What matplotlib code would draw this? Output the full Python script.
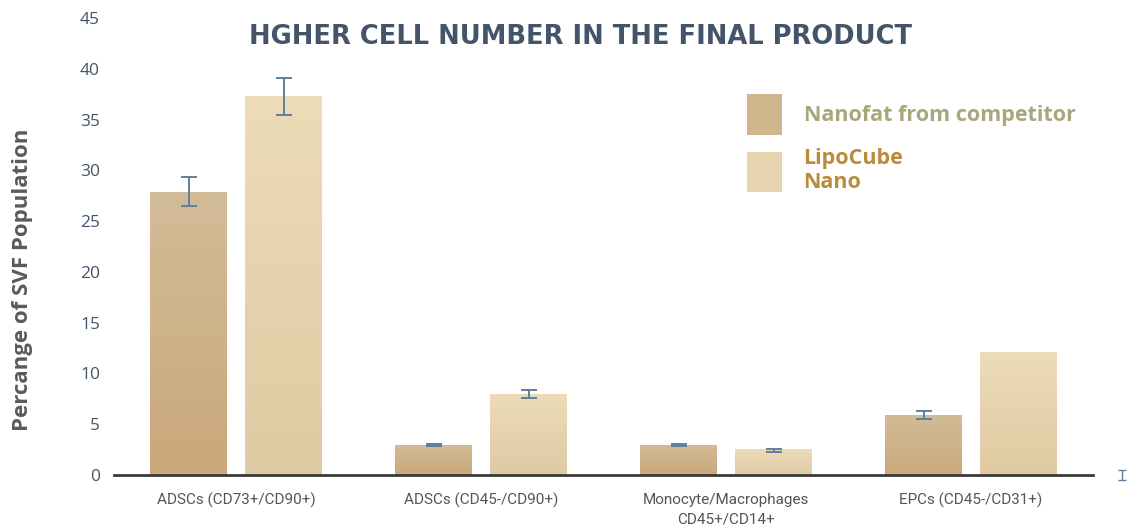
import matplotlib
matplotlib.use('Agg')
import matplotlib.pyplot as plt
from matplotlib.colors import LinearSegmentedColormap
import numpy as np

categorias = ['ADSCs (CD73+/CD90+)', 'ADSCs (CD45-/CD90+)',
              'Monocyte/Macrophages\nCD45+/CD14+', 'EPCs (CD45-/CD31+)']
nanofat = [27.9, 3.0, 3.0, 5.95]
nanofat_err = [1.4, 0.1, 0.1, 0.4]
lipocube = [37.3, 7.97, 2.55, 12.1]
lipocube_err = [1.85, 0.43, 0.12]
lipocube_err_centro = [37.25, 7.97, 2.4]
# barra de error suelta a la derecha del eje
error_suelto = 0.48

color_nanofat = '#cfb68c'
color_lipo = '#e6d4ae'
color_error = '#5f7f9e'

cmap_nanofat = LinearSegmentedColormap.from_list('nf', ['#caa87a', '#d2bc98'])
cmap_lipo = LinearSegmentedColormap.from_list('lc', ['#dfcaa3', '#ecdcb7'])


def degradado(ax, barras, cmap):
    grad = np.linspace(0, 1, 256).reshape(-1, 1)
    for b in barras:
        x0, y0 = b.get_x(), b.get_y()
        im = ax.imshow(grad, cmap=cmap, origin='lower', aspect='auto',
                       extent=(x0, x0 + b.get_width(), y0, y0 + b.get_height()),
                       zorder=2.1)
        im.set_clip_path(b)


fig = plt.figure(figsize=(11.31, 5.29), dpi=100)
ax = fig.add_axes([0.1008, 0.102, 0.866, 0.864])

x = np.arange(len(categorias))
ancho = 0.314
desp = 0.194

b1 = ax.bar(x - desp, nanofat, width=ancho, color=color_nanofat,
            label='Nanofat from competitor', zorder=2)
b2 = ax.bar(x + desp, lipocube, width=ancho, color=color_lipo,
            label='LipoCube\nNano', zorder=2)
degradado(ax, b1, cmap_nanofat)
degradado(ax, b2, cmap_lipo)

ax.errorbar(x - desp, nanofat, yerr=nanofat_err, fmt='none', ecolor=color_error,
            elinewidth=1.4, capsize=6, capthick=1.4, zorder=3)
ax.errorbar(x[:3] + desp, lipocube_err_centro, yerr=lipocube_err, fmt='none',
            ecolor=color_error, elinewidth=1.4, capsize=6, capthick=1.4, zorder=3)
eb = ax.errorbar([3.616], [0], yerr=[error_suelto], fmt='none', ecolor=color_error,
                 elinewidth=1.0, capsize=3, capthick=1.0, zorder=3)
for art in eb.lines[1] + eb.lines[2]:
    art.set_clip_on(False)

ax.set_xlim(-0.5, 3.5)
ax.set_ylim(0, 45)
ax.set_yticks(np.arange(0, 46, 5))
ax.set_xticks(x)
ax.set_xticklabels(categorias, fontsize=11, color='#555555',
                   family=['Liberation Sans Narrow', 'Roboto'], linespacing=1.45)
for s in ['top', 'right', 'left']:
    ax.spines[s].set_visible(False)
ax.spines['bottom'].set_color('#3a3a3a')
ax.spines['bottom'].set_linewidth(2)
ax.tick_params(axis='y', length=0, pad=10, labelsize=12.5, labelcolor='#44546a')
ax.tick_params(axis='x', length=0, pad=13)
for t in ax.get_yticklabels():
    t.set_family('Open Sans')

ax.set_ylabel('Percange of SVF Population', fontsize=16, fontweight='bold',
              color='#5a5a5a', family='Open Sans')
ax.yaxis.set_label_coords(-0.083, 0.427)

fig.text(0.513, 0.93, 'HGHER CELL NUMBER IN THE FINAL PRODUCT', ha='center', va='center',
         fontsize=18.5, fontweight='bold', color='#44546a', family='DejaVu Sans')

leg = ax.legend(loc='upper left', bbox_to_anchor=(0.626, 0.875), frameon=False,
                prop={'family': 'Open Sans', 'weight': 'bold', 'size': 15.5},
                handlelength=1.65, handleheight=2.5, handletextpad=1.0,
                labelspacing=0.6)
leg.get_texts()[0].set_color('#a9a67c')
leg.get_texts()[1].set_color('#b98b3c')

plt.savefig('out.png', dpi=100)
plt.close('all')
